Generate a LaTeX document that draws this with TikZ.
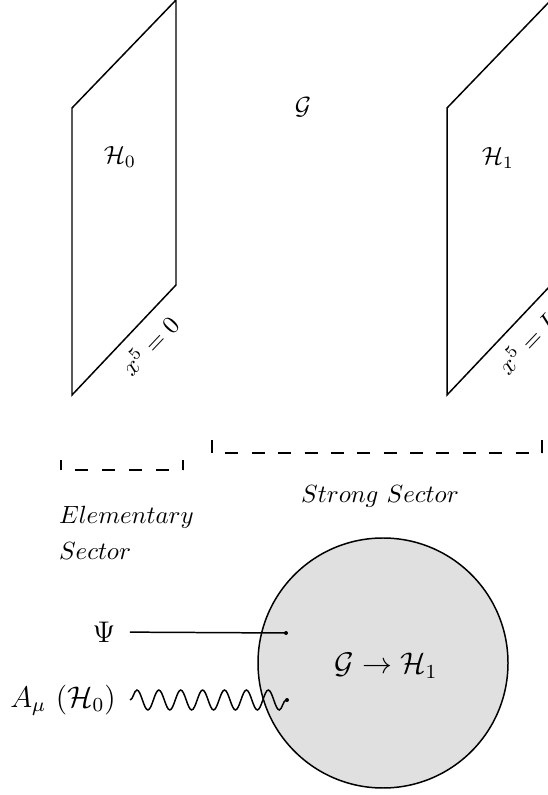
\documentclass[tikz,border=0pt]{standalone}
\usetikzlibrary{decorations.pathmorphing}
\tikzset{
  secline/.style={line width=0.5pt, dash pattern=on 5.2pt off 5.1pt, dash expand off},
  lbl/.style={inner sep=5.5pt, font=\large},
  wavy/.style={decorate, decoration={snake, amplitude=4pt, segment length=8.8pt}},
}
\begin{document}
\begin{tikzpicture}[x=0.402pt, y=0.402pt, line width=0.6pt]
  \useasboundingbox (0,0) rectangle (547,795);
  % boundaries
  \draw (72,400) -- (176,510) node[sloped, below=1pt, pos=0.59] (uvpos) {$x^5=0$}
    -- (176,795) -- (72,687) -- cycle;
  \draw (447,400) -- (551,510) node[sloped, below=1pt, pos=0.62] (irpos) {$x^5=L$}
    -- (551,795) -- (447,687) -- cycle;
  \node (uv) at (120,638) {$\mathcal{H}_0$};
  \node (ir) at (498,637) {$\mathcal{H}_1$};
  \node (bulk) at (303,688) {$\mathcal{G}$};
  % sectors
  \draw (61,335) -- (61,325);
  \draw[secline] (61,325) -- (183,325);
  \draw (183,325) -- (183,335);
  \draw (212,355) -- (212,342);
  \draw[secline] (212,342) -- (542,342);
  \draw (542,342) -- (542,355);
  \node[anchor=west, align=left] (elem) at (50,262) {$Elementary$\\[2.5pt]$Sector$};
  \node (strong) at (380,299) {$Strong\ Sector$};
  % composite blob
  \fill[black!12] (383,132) circle (125);
  \draw (383,132) circle (125);
  \node[font=\large] (blob) at (386,129) {$\mathcal{G}\to\mathcal{H}_1$};
  \coordinate (psiend) at (286,162);
  \coordinate (amuend) at (287,95);
  \node[lbl] (psi) at (104,163) {$\Psi$};
  \node[lbl] (amu) at (63,95) {$A_\mu\ (\mathcal{H}_0)$};
  \draw (psi) -- (psiend);
  \draw[wavy] (amu) -- (amuend);
  \fill (psiend) circle[radius=0.8pt];
  \fill (amuend) circle[radius=0.8pt];
\end{tikzpicture}
\end{document}
